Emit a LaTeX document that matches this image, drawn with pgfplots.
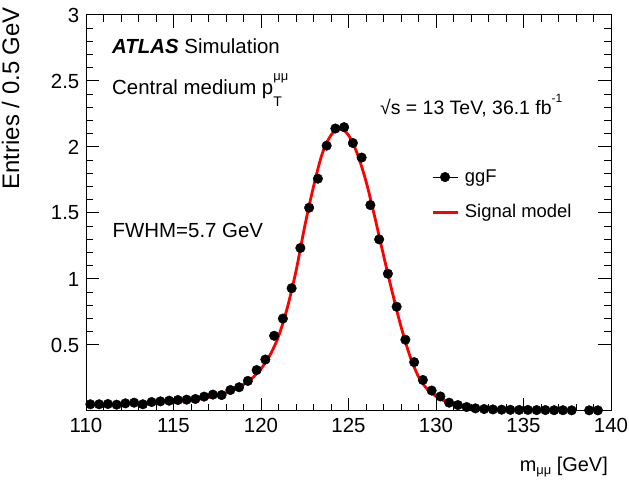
\documentclass[border=0pt]{standalone}
\usepackage{pgfplots}
\pgfplotsset{compat=1.18}
\usepackage{pgfplotstable}
\usepackage{fontspec}
\setmainfont{Liberation Sans}

\pgfplotstableread{
x y
110.25 0.051
110.75 0.051
111.25 0.053
111.75 0.048
112.25 0.058
112.75 0.063
113.25 0.051
113.75 0.068
114.25 0.073
114.75 0.078
115.25 0.083
115.75 0.086
116.25 0.091
116.75 0.109
117.25 0.124
117.75 0.121
118.25 0.159
118.75 0.180
119.25 0.228
119.75 0.310
120.25 0.390
120.75 0.570
121.25 0.700
121.75 0.930
122.25 1.235
122.75 1.540
123.25 1.760
123.75 2.010
124.25 2.140
124.75 2.150
125.25 2.030
125.75 1.920
126.25 1.560
126.75 1.300
127.25 1.040
127.75 0.790
128.25 0.540
128.75 0.370
129.25 0.235
129.75 0.155
130.25 0.110
130.75 0.063
131.25 0.045
131.75 0.030
132.25 0.020
132.75 0.015
133.25 0.012
133.75 0.010
134.25 0.009
134.75 0.008
135.25 0.008
135.75 0.007
136.25 0.007
136.75 0.006
137.25 0.006
137.75 0.005
138.75 0.005
139.25 0.005
}\ggf

\pgfplotstableread{
x y
115.0 0.069
115.5 0.075
116.0 0.082
116.5 0.091
117.0 0.103
117.5 0.118
118.0 0.138
118.5 0.165
119.0 0.200
119.5 0.250
120.0 0.320
120.5 0.420
121.0 0.565
121.5 0.780
122.0 1.060
122.5 1.400
123.0 1.700
123.5 1.950
124.0 2.090
124.5 2.140
125.0 2.090
125.5 1.950
126.0 1.740
126.5 1.470
127.0 1.180
127.5 0.900
128.0 0.640
128.5 0.420
129.0 0.260
129.5 0.165
130.0 0.112
130.5 0.075
131.0 0.050
131.5 0.034
132.0 0.022
132.5 0.015
133.0 0.011
134.0 0.007
135.0 0.005
}\model

\begin{document}
\begin{tikzpicture}[x=1bp,y=1bp]
\path[use as bounding box] (0,0) rectangle (629,480);
\begin{axis}[
  at={(86bp,69bp)}, anchor=south west,
  scale only axis, width=525bp, height=396bp,
  xmin=110, xmax=140, ymin=0, ymax=3,
  xtick={110,115,...,140},
  ytick={0.5,1,1.5,2,2.5,3},
  minor x tick num=4, minor y tick num=4,
  xtick pos=both, ytick pos=both,
  xticklabel pos=lower, yticklabel pos=left,
  tick align=inside,
  major tick length=13bp, minor tick length=7bp,
  every tick/.style={black, line width=1bp},
  axis line style={black, line width=1bp},
  /pgf/number format/assume math mode=true,
  /pgf/number format/fixed,
  ticklabel style={font=\fontsize{20.5}{24}\selectfont},
  xticklabel style={inner sep=0pt, yshift=-7bp},
  yticklabel style={inner sep=0pt, xshift=-6.5bp},
  legend style={at={(0.657,0.614)}, anchor=north west, draw=none, fill=none,
    inner sep=0pt, row sep=17.6bp, column sep=6bp,
    font=\fontsize{18.5}{22}\selectfont,
    nodes={inner sep=0pt, text height=14bp, text depth=4bp}},
  legend cell align=left,
]
\addplot[only marks, mark=*, mark size=4.8bp, black,
  legend image code/.code={\draw[black, line width=0.8bp] (0bp,0bp) -- (25bp,0bp); \fill[black] (12.5bp,0bp) circle (4.8bp);}]
  table {\ggf};
\addlegendentry{ggF}
\addplot[red, line width=2.8bp, smooth, tension=0.5,
  legend image code/.code={\draw[red, line width=2.8bp] (0bp,0bp) -- (25bp,0bp);}]
  table {\model};
\addlegendentry{Signal model}
\end{axis}
\node[anchor=base west, inner sep=0pt, font=\fontsize{20.5}{24}\selectfont] at (112,426) {\textbf{\textit{ATLAS}} Simulation};
\node[anchor=base west, inner sep=0pt, font=\fontsize{20.5}{24}\selectfont] at (112,385) {Central medium p\rlap{\raisebox{-12bp}{\fontsize{14}{14}\selectfont T}}\raisebox{14bp}{\fontsize{13}{13}\selectfont μμ}};
\node[anchor=base west, inner sep=0pt, font=\fontsize{19.5}{24}\selectfont] at (380,365) {√s = 13 TeV, 36.1 fb\raisebox{12bp}{\fontsize{12}{12}\selectfont -1}};
\node[anchor=base west, inner sep=0pt, font=\fontsize{20.5}{24}\selectfont] at (112.5,242) {FWHM=5.7 GeV};
\node[anchor=base east, inner sep=0pt, font=\fontsize{20}{24}\selectfont] at (608,8.5) {m\raisebox{-3bp}{\fontsize{13}{13}\selectfont μμ} [GeV]};
\node[anchor=base east, rotate=90, inner sep=0pt, font=\fontsize{24}{28}\selectfont] at (19,473) {Entries / 0.5 GeV};
\end{tikzpicture}
\end{document}
